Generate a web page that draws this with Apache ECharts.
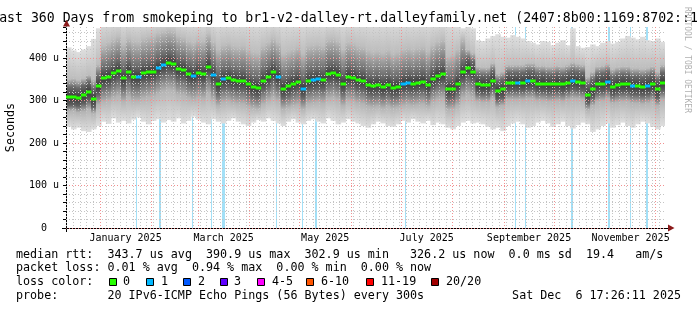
<!DOCTYPE html>
<html><head><meta charset="utf-8">
<script src="https://cdn.jsdelivr.net/npm/echarts@6/dist/echarts.min.js"></script>
<style>html,body{margin:0;padding:0;background:#fff}#c{width:697px;height:310px}</style>
</head><body><div id="c"></div>
<script>
// ---------- data ----------
const startTime = Date.UTC(2024, 11, 11, 17, 26, 11);
const endTime = Date.UTC(2025, 11, 6, 17, 26, 11);
const DAY = 86400000;
const stepDays = 3; // one column every 3 days

// median RTT (microseconds) per column
const median = [
 308,308,306,312,320,304,334,352,356,364, 370,352,368,356,356,364,366,368,376,384,
 389,386,374,372,362,358,364,362,380,360, 338,350,352,348,346,346,338,332,330,346,
 356,366,356,328,334,340,344,328,346,348, 350,348,362,364,360,340,356,354,348,346,
 336,334,336,332,336,330,332,340,342,340, 342,344,336,350,358,362,326,328,340,366,
 376,368,338,336,336,346,322,326,342,342, 342,342,346,346,340,340,338,338,340,338,
 342,346,344,342,314,326,338,340,344,332, 336,338,338,334,334,332,334,338,326,342
];
// lowest ping (bottom of smoke)
const smokeLow = [
 238,232,236,228,226,232,240,250,245,258, 248,252,246,255,260,250,244,252,256,248,
 254,250,258,246,252,262,255,248,244,256, 250,246,252,258,250,244,240,248,254,250,
 258,252,246,240,250,256,248,244,252,256, 250,246,258,252,244,248,256,250,246,240,
 236,244,250,246,240,238,244,252,248,256, 250,246,252,242,248,244,236,232,240,248,
 252,246,248,244,238,232,236,228,240,246, 250,244,236,240,248,252,246,238,244,250,
 240,234,242,248,244,226,232,240,246,236, 242,248,240,236,244,250,246,238,232,240
];
// lower edge of the dense part of the smoke
const smokeQ1 = [
 275,276,272,274,280,270,290,297,300,306, 310,298,308,300,300,305,308,310,316,322,
 326,324,314,312,306,302,306,304,316,302, 288,296,298,294,292,292,286,282,280,292,
 300,306,300,280,284,288,290,280,292,294, 296,294,304,306,302,288,300,298,294,292,
 286,284,286,282,286,282,284,288,290,288, 290,292,286,296,302,304,278,280,288,306,
 312,306,298,296,296,304,284,288,302,302, 302,302,304,304,300,300,298,298,300,298,
 302,304,304,302,278,288,298,300,304,294, 296,298,298,294,294,292,294,298,288,302
];
// upper edge of the dense part of the smoke
const smokeQ3 = [
 350,352,348,352,360,350,385,430,436,444, 450,432,446,440,438,446,450,452,458,462,
 466,464,452,448,440,436,442,440,456,438, 420,430,434,428,426,428,420,414,412,428,
 436,446,436,410,416,420,426,410,428,430, 432,428,444,446,440,420,436,434,428,426,
 418,414,416,412,418,410,414,420,424,420, 424,426,416,430,438,444,404,408,420,446,
 420,412,380,378,378,388,364,368,384,384, 384,384,388,388,382,382,380,380,382,380,
 384,390,386,384,356,368,380,382,386,374, 378,380,380,376,376,374,376,380,368,384
];
// highest ping (top of smoke)
const smokeHigh = [
 425,418,414,420,428,445,470,490,490,490, 490,490,490,490,490,490,490,490,490,490,
 490,490,490,490,490,490,490,490,490,490, 490,490,490,490,490,490,490,490,490,490,
 490,490,490,490,490,490,490,490,490,490, 490,490,490,490,490,490,490,490,490,490,
 490,490,490,490,490,490,490,490,490,490, 490,490,490,490,490,490,490,490,480,470,
 478,470,442,440,446,452,456,450,448,454, 450,446,440,436,432,440,438,430,436,442,
 430,470,428,424,426,432,428,436,440,434, 438,446,452,448,444,450,442,440,446,438
];
// packet-loss periods, [start day, end day] counted from startTime
const lossPeriods = [
 [42.0,42.6],[55.9,57.1],[75.6,76.2],[87.4,88.0],[93.9,96.0],[126.0,126.6],
 [141.7,142.3],[149.4,150.8],[203.5,204.1],[270.0,270.6],[276.0,276.6],
 [303.4,304.8],[325.7,326.9],[339.0,339.6],[348.4,349.8]
];
const monthStarts = ['2025-01-01','2025-02-01','2025-03-01','2025-04-01','2025-05-01','2025-06-01',
  '2025-07-01','2025-08-01','2025-09-01','2025-10-01','2025-11-01','2025-12-01'];
const monthLabels = ['January 2025','March 2025','May 2025','July 2025','September 2025','November 2025'];
const monthLabelSpans = [['2025-01-01','2025-02-01'],['2025-03-01','2025-04-01'],['2025-05-01','2025-06-01'],
  ['2025-07-01','2025-08-01'],['2025-09-01','2025-10-01'],['2025-11-01','2025-12-01']];
const yMajorTicks = [0,100,200,300,400];
const yMax = 473;

const lossColorNames = ['0','1','2','3','4-5','6-10','11-19','20/20'];
const lossColors = ['#26ff00','#00b8ff','#0059ff','#5e00ff','#ff00ff','#ff5500','#ff0000','#a10000'];

const statLine1 = 'median rtt:  343.7 us avg  390.9 us max  302.9 us min   326.2 us now  0.0 ms sd  19.4   am/s';
const statLine2 = 'packet loss: 0.01 % avg  0.94 % max  0.00 % min  0.00 % now';
const probeLine = 'probe:       20 IPv6-ICMP Echo Pings (56 Bytes) every 300s';
const dateLine = 'Sat Dec  6 17:26:11 2025';
const titleText = 'Last 360 Days from smokeping to br1-v2-dalley-rt.dalleyfamily.net (2407:8b00:1169:8702::1)';

// ---------- build ----------
const MONO = 'DejaVu Sans Mono';
const ts = s => Date.parse(s + 'T00:00:00Z');
const columns = median.map((m, i) => [startTime + i * stepDays * DAY, smokeLow[i], smokeQ1[i], m, smokeQ3[i], smokeHigh[i]]);
const lossData = lossPeriods.map(p => [startTime + p[0] * DAY, startTime + p[1] * DAY]);
function columnHasLoss(i) {
  const a = i * stepDays, b = a + stepDays;
  return lossPeriods.some(p => p[1] > a && p[0] < b);
}

const minorDays = [];
for (let t = ts('2024-12-12'); t < endTime; t += 4 * DAY) minorDays.push(t);

const chart = echarts.init(document.getElementById('c'), null, {renderer: 'canvas'});

function clamp01(v){ return Math.max(0, Math.min(1, v)); }

const option = {
  animation: false,
  backgroundColor: '#fff',
  grid: {left: 66, right: 32, top: 27, bottom: 82, containLabel: false, outerBoundsMode: 'none'},
  xAxis: {
    type: 'value', min: startTime, max: endTime,
    axisLine: {show: true, lineStyle: {color: '#000', width: 1}},
    axisTick: {show: false}, axisLabel: {show: false}, splitLine: {show: false}
  },
  yAxis: [{
    type: 'value', min: 0, max: yMax, interval: 20, z: 3, position: 'left',
    axisLine: {show: true, lineStyle: {color: '#000'}},
    axisTick: {show: true, length: 3, lineStyle: {color: '#000'}},
    axisLabel: {show: false},
    splitLine: {show: true, showMaxLine: false, lineStyle: {color: '#c4c4c4', type: [1, 2]}}
  }, {
    type: 'value', min: 0, max: yMax, interval: 100, z: 3, position: 'left', offset: 0,
    name: 'Seconds', nameLocation: 'middle', nameGap: 49,
    nameTextStyle: {fontFamily: MONO, fontSize: 11.7, color: '#000'},
    axisLine: {show: false}, axisTick: {show: false},
    axisLabel: {
      show: true, margin: 7, fontFamily: MONO, fontSize: 10, color: '#000',
      formatter: v => yMajorTicks.includes(v) ? (v === 0 ? '0  ' : v + ' u') : ''
    },
    splitLine: {show: true, showMaxLine: false, lineStyle: {color: '#f29090', type: [1, 2]}}
  }],
  series: [
    { // loss background
      type: 'custom', z: 1, clip: true, data: lossData, encode: {x: [0, 1]},
      renderItem(params, api) {
        const cs = params.coordSys;
        const x0 = api.coord([api.value(0), 0])[0];
        const x1 = api.coord([api.value(1), 0])[0];
        return {type: 'rect', shape: {x: Math.round(x0), y: cs.y, width: Math.max(1, Math.round(x1 - x0)), height: cs.height},
          style: {fill: '#a3e0f7'}};
      }
    },
    { // smoke
      type: 'custom', z: 2, clip: true, data: columns, encode: {x: 0, y: [1, 5]},
      renderItem(params, api) {
        const t = api.value(0);
        const x0 = api.coord([t, 0])[0];
        const x1 = api.coord([t + stepDays * DAY, 0])[0];
        const yLo = api.coord([t, api.value(1)])[1];
        const yQ1 = api.coord([t, api.value(2)])[1];
        const yMed = api.coord([t, api.value(3)])[1];
        const yQ3 = api.coord([t, api.value(4)])[1];
        const yHi = api.coord([t, api.value(5)])[1];
        const h = yLo - yHi;
        const f = y => clamp01((y - yHi) / h);
        const stops = [
          {offset: 0, color: '#dedede'},
          {offset: f(yQ3), color: '#bdbdbd'},
          {offset: f(yMed - 10), color: '#6a6a6a'},
          {offset: f(yMed), color: '#3a3a3a'},
          {offset: f(yMed + 8), color: '#606060'},
          {offset: f(yQ1), color: '#b4b4b4'},
          {offset: 1, color: '#dedede'}
        ];
        for (let k = 1; k < stops.length; k++) if (stops[k].offset < stops[k-1].offset) stops[k].offset = stops[k-1].offset;
        return {type: 'rect', shape: {x: x0, y: yHi, width: x1 - x0 + 0.6, height: h},
          style: {fill: new echarts.graphic.LinearGradient(0, 0, 0, 1, stops)}};
      }
    },
    { // vertical grid lines
      type: 'custom', z: 3, clip: true, silent: true,
      data: minorDays.map(t => [t, 0]).concat(monthStarts.map(s => [ts(s), 1])),
      encode: {x: 0},
      renderItem(params, api) {
        const cs = params.coordSys;
        const x = Math.round(api.coord([api.value(0), 0])[0]) + 0.5;
        const major = api.value(1) === 1;
        return {type: 'line', shape: {x1: x, y1: cs.y, x2: x, y2: cs.y + cs.height},
          style: {stroke: major ? '#f29090' : '#c4c4c4', lineWidth: 1, lineDash: [1, 2]}, z2: major ? 2 : 1};
      }
    },
    { // median
      type: 'custom', z: 4, clip: true, data: columns, encode: {x: 0, y: 3},
      renderItem(params, api) {
        const t = api.value(0);
        const x0 = api.coord([t, 0])[0];
        const x1 = api.coord([t + stepDays * DAY, 0])[0];
        const y = api.coord([t, api.value(3)])[1];
        return {type: 'rect', shape: {x: x0, y: Math.round(y) - 1.5, width: x1 - x0 + 0.5, height: 3},
          style: {fill: columnHasLoss(params.dataIndex) ? lossColors[1] : lossColors[0]}};
      }
    },
    { // month labels
      type: 'custom', z: 5, clip: false, silent: true,
      data: monthLabelSpans.map((s, i) => [ts(s[0]), ts(s[1]), i]),
      encode: {x: [0, 1]},
      renderItem(params, api) {
        const cs = params.coordSys;
        const xa = api.coord([api.value(0), 0])[0];
        const xb = api.coord([api.value(1), 0])[0];
        return {type: 'text', x: (xa + xb) / 2, y: cs.y + cs.height + 10,
          style: {text: monthLabels[api.value(2)], fontFamily: MONO, fontSize: 10, fill: '#000', align: 'center', verticalAlign: 'middle'}};
      }
    }
  ],
  graphic: []
};

// header, side text and legend block
const g = option.graphic;
g.push({type: 'text', x: 348.5, y: 19, style: {text: titleText, fontFamily: MONO, fontSize: 13.2, fill: '#000', align: 'center', verticalAlign: 'middle'}});
g.push({type: 'text', x: 687, y: 60, rotation: -Math.PI / 2, style: {text: 'RRDTOOL / TOBI OETIKER', fontFamily: MONO, fontSize: 8, fill: '#b0b0b0', align: 'center', verticalAlign: 'middle'}});
// axis arrows
g.push({type: 'polygon', shape: {points: [[668, 224.5], [674.5, 228], [668, 231.5]]}, style: {fill: '#8b1a1a'}});
g.push({type: 'polygon', shape: {points: [[63, 26.5], [66.5, 20], [70, 26.5]]}, style: {fill: '#8b1a1a'}});
g.push({type: 'line', shape: {x1: 665, y1: 228.5, x2: 668, y2: 228.5}, style: {stroke: '#000', lineWidth: 1}});
g.push({type: 'line', shape: {x1: 62, y1: 228.5, x2: 66, y2: 228.5}, style: {stroke: '#000', lineWidth: 1}});
g.push({type: 'line', shape: {x1: 66.5, y1: 228, x2: 66.5, y2: 232}, style: {stroke: '#000', lineWidth: 1}});

const LF = 11.7;
g.push({type: 'text', x: 16, y: 254.5, style: {text: statLine1, fontFamily: MONO, fontSize: LF, fill: '#000', verticalAlign: 'middle'}});
g.push({type: 'text', x: 16, y: 268.3, style: {text: statLine2, fontFamily: MONO, fontSize: LF, fill: '#000', verticalAlign: 'middle'}});
g.push({type: 'text', x: 16, y: 282.3, style: {text: 'loss color:', fontFamily: MONO, fontSize: LF, fill: '#000', verticalAlign: 'middle'}});
g.push({type: 'text', x: 16, y: 296, style: {text: probeLine, fontFamily: MONO, fontSize: LF, fill: '#000', verticalAlign: 'middle'}});
g.push({type: 'text', x: 681, y: 296, style: {text: dateLine, fontFamily: MONO, fontSize: LF, fill: '#000', align: 'right', verticalAlign: 'middle'}});
const boxX = [109, 146, 183, 220, 257, 306, 366, 431];
const labX = [123, 161, 198, 234, 272, 321, 381, 446];
lossColorNames.forEach((n, i) => {
  g.push({type: 'rect', shape: {x: boxX[i] + 0.5, y: 278.5, width: 7, height: 7}, style: {fill: lossColors[i], stroke: '#000', lineWidth: 1}});
  g.push({type: 'text', x: labX[i], y: 282.3, style: {text: n, fontFamily: MONO, fontSize: LF, fill: '#000', verticalAlign: 'middle'}});
});

chart.setOption(option);
</script>
</body></html>
